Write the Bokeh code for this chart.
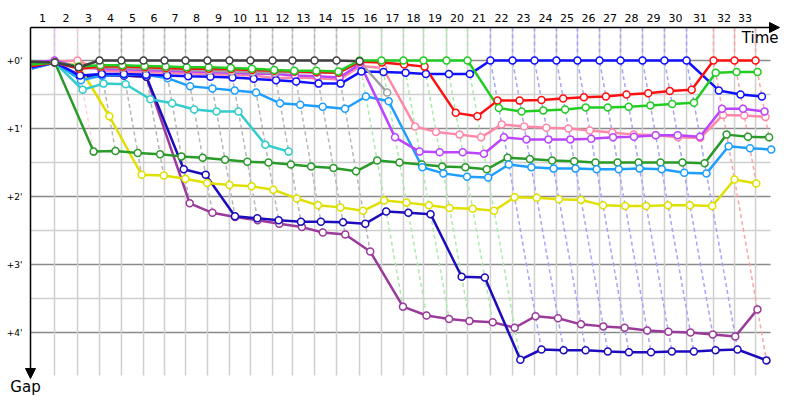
from bokeh.plotting import figure
from bokeh.models import Range1d, Arrow, NormalHead
from bokeh.core.properties import value
from bokeh.embed import file_html
from bokeh.resources import INLINE

# ---------------- data (minutes) ----------------
laps = list(range(0, 34))
# leader's time at the end of each lap (minutes)
leader_time = [0.0, 2.0, 3.92, 5.75, 7.58, 9.42, 11.17, 12.92, 14.75, 16.58, 18.33,
               20.17, 21.83, 23.67, 25.5, 27.42, 29.25, 31.08, 32.75, 34.67, 36.42,
               38.33, 40.17, 42.0, 43.83, 45.58, 47.42, 49.17, 51.0, 52.83, 54.67,
               56.92, 58.67, 60.42]
lap_labels = [str(n) for n in range(1, 34)]
gap_ticks = [0, 1, 2, 3, 4]
gap_labels = ["+0'", "+1'", "+2'", "+3'", "+4'"]

gap_black = [0.02, 0.03, 0.10, 0, 0, 0, 0, 0, 0, 0, 0, 0, 0, 0, 0, 0.01]
gap_gray = [0.05, 0.03, 0.12, 0.10, 0.11, 0.12, 0.13, 0.14, 0.15, 0.16, 0.17, 0.18,
            0.17, 0.18, 0.18, 0.02, 0.47]
gap_green = [0.06, 0.03, 0.09, 0.07, 0.07, 0.08, 0.09, 0.10, 0.10, 0.11, 0.12, 0.14,
             0.15, 0.15, 0.16, 0.0, 0, 0, 0, 0, 0, 0.70, 0.75, 0.735, 0.72, 0.69,
             0.69, 0.68, 0.66, 0.64, 0.62, 0.18, 0.17, 0.17]
gap_red = [0.08, 0.03, 0.12, 0.09, 0.09, 0.10, 0.11, 0.12, 0.12, 0.13, 0.14, 0.15,
           0.16, 0.17, 0.18, 0.02, 0.03, 0.06, 0.09, 0.77, 0.82, 0.59, 0.59, 0.58,
           0.56, 0.54, 0.53, 0.50, 0.48, 0.45, 0.43, 0.0, 0.0, 0.0]
gap_blue = [0.10, 0.03, 0.22, 0.20, 0.20, 0.21, 0.22, 0.23, 0.24, 0.25, 0.27, 0.29,
            0.31, 0.34, 0.34, 0.16, 0.17, 0.18, 0.20, 0.20, 0.20, 0, 0, 0, 0, 0, 0,
            0, 0, 0, 0, 0.44, 0.50, 0.53]
gap_lightblue = [0.12, 0.03, 0.29, 0.22, 0.21, 0.21, 0.26, 0.38, 0.41, 0.44, 0.47,
                 0.63, 0.65, 0.68, 0.71, 0.53, 0.60, 1.57, 1.66, 1.71, 1.72, 1.53,
                 1.57, 1.59, 1.59, 1.60, 1.60, 1.59, 1.60, 1.65, 1.66, 1.26, 1.29, 1.31]
gap_cyan = [0.10, 0.03, 0.43, 0.34, 0.35, 0.57, 0.63, 0.72, 0.75, 0.75, 1.24, 1.34]
gap_darkgreen = [0.04, 0.03, 1.34, 1.33, 1.36, 1.38, 1.41, 1.43, 1.46, 1.49, 1.50,
                 1.53, 1.56, 1.58, 1.63, 1.47, 1.50, 1.53, 1.56, 1.57, 1.60, 1.43,
                 1.45, 1.47, 1.48, 1.50, 1.50, 1.50, 1.50, 1.50, 1.51, 1.09, 1.12, 1.13]
gap_yellow = [0.03, 0.03, 0.07, 0.82, 1.68, 1.69, 1.74, 1.80, 1.83, 1.85, 1.90, 2.03,
              2.13, 2.16, 2.21, 2.06, 2.09, 2.13, 2.17, 2.18, 2.21, 2.01, 2.02, 2.04,
              2.05, 2.13, 2.14, 2.14, 2.13, 2.13, 2.14, 1.75, 1.81]
gap_navy = [0.10, 0.03, 0.25, 0.22, 0.22, 0.24, 1.60, 1.68, 2.29, 2.32, 2.35, 2.37,
            2.37, 2.38, 2.40, 2.22, 2.24, 2.26, 3.18, 3.19, 4.40, 4.25, 4.26, 4.26,
            4.28, 4.29, 4.29, 4.28, 4.28, 4.26, 4.25, 4.41]
gap_purple = [0.12, 0.03, 0.24, 0.21, 0.22, 0.24, 2.10, 2.24, 2.30, 2.35, 2.40, 2.45,
              2.53, 2.56, 2.81, 3.62, 3.75, 3.80, 3.83, 3.85, 3.93, 3.76, 3.79, 3.88,
              3.91, 3.93, 3.97, 3.99, 4.00, 4.03, 4.06, 3.66]
gap_violet = [0.03, 0.0, 0.10, 0.12, 0.13, 0.14, 0.15, 0.16, 0.17, 0.18, 0.19, 0.20,
              0.22, 0.23, 0.25, 0.05, 1.13, 1.34, 1.35, 1.35, 1.37, 1.13, 1.16, 1.16,
              1.16, 1.15, 1.13, 1.12, 1.10, 1.10, 1.12, 0.71, 0.71, 0.75]
gap_pink = [0.06, 0.02, 0.0, 0.15, 0.16, 0.17, 0.18, 0.19, 0.20, 0.21, 0.22, 0.26,
            0.25, 0.26, 0.28, 0.08, 0.11, 0.97, 1.05, 1.09, 1.13, 0.94, 0.97, 0.99,
            1.00, 1.03, 1.06, 1.09, 1.10, 1.13, 1.14, 0.80, 0.81, 0.83]

series = [
    (gap_purple, "#9a3a9a"),
    (gap_navy, "#1c0cbc"),
    (gap_yellow, "#e0e000"),
    (gap_darkgreen, "#2a9a2a"),
    (gap_cyan, "#33cccc"),
    (gap_lightblue, "#1e9eff"),
    (gap_pink, "#ff88a8"),
    (gap_violet, "#bb44ff"),
    (gap_blue, "#1010ff"),
    (gap_gray, "#a0a0a0"),
    (gap_red, "#ff1010"),
    (gap_green, "#22cc22"),
    (gap_black, "#404040"),
]

# ---------------- figure ----------------
PX_X = 12.0   # px per minute horizontally
PX_Y = 68.0   # px per minute vertically
X0, Y0 = 30.0, 60.0
def xd(px):
    return (px - X0) / PX_X
def yd(px):
    return (px - Y0) / PX_Y

p = figure(width=800, height=400, output_backend="svg", toolbar_location=None,
           x_range=Range1d(xd(0), xd(800)), y_range=Range1d(yd(400), yd(0)),
           min_border=0)
p.axis.visible = False
p.grid.visible = False
p.outline_line_color = None
p.background_fill_color = "white"
p.border_fill_color = "white"

top = yd(27)
bottom = yd(375)
right = xd(770)

# horizontal grid
for g in [0.5, 1.5, 2.5, 3.5]:
    p.segment(0, g, right, g, line_color="#cfcfcf", line_width=1.5)
for g in gap_ticks:
    p.segment(0, g, right, g, line_color="#8a8a8a", line_width=1.5)
# vertical grid
p.segment(x0=leader_time[1:], y0=[top] * 33, x1=leader_time[1:], y1=[bottom] * 33,
          line_color="#cfcfcf", line_width=1.5)

def lighten(c, f=0.62):
    r, g, b = int(c[1:3], 16), int(c[3:5], 16), int(c[5:7], 16)
    r = int(r + (255 - r) * f); g = int(g + (255 - g) * f); b = int(b + (255 - b) * f)
    return "#%02x%02x%02x" % (r, g, b)

# dashed lap lines (colour of that lap's leader)
xs, ys, cs = [], [], []
for n in range(1, 34):
    best, bcol, gmax = None, None, 0
    for gaps, col in series:
        if n < len(gaps) and gaps[n] is not None:
            if best is None or gaps[n] < best:
                best, bcol = gaps[n], col
            gmax = max(gmax, gaps[n])
    t = leader_time[n]
    xs.append([t, t, t + gmax]); ys.append([top, 0, gmax]); cs.append(lighten(bcol))
p.multi_line(xs, ys, line_color=cs, line_width=1.5, line_dash="4 3")

# series lines
for gaps, col in series:
    gx = [leader_time[i] + g for i, g in enumerate(gaps) if g is not None]
    gy = [g for g in gaps if g is not None]
    p.line(gx, gy, line_color=col, line_width=2.5)
# markers (lap 1 onward)
for gaps, col in series:
    gx = [leader_time[i] + g for i, g in enumerate(gaps) if g is not None and i > 0]
    gy = [g for i, g in enumerate(gaps) if g is not None and i > 0]
    p.scatter(gx, gy, size=7, fill_color="white", line_color=col, line_width=1.5)

# axes with arrows
p.add_layout(Arrow(end=NormalHead(size=10, fill_color="black", line_color="black"),
                   x_start=0, y_start=top, x_end=xd(779), y_end=top,
                   line_color="black", line_width=1.5))
p.add_layout(Arrow(end=NormalHead(size=10, fill_color="black", line_color="black"),
                   x_start=0, y_start=top, x_end=0, y_end=yd(378),
                   line_color="black", line_width=1.5))

FONT = value("DejaVu Sans")
mid = [(leader_time[i] + leader_time[i + 1]) / 2 for i in range(33)]
p.text(x=mid, y=[yd(17.5)] * 33, text=lap_labels, text_font=FONT,
       text_font_size="11px", text_align="center", text_baseline="middle",
       text_color="black")
p.text(x=[xd(22)] * 5, y=gap_ticks, text=gap_labels, text_font=FONT,
       text_font_size="9px", text_align="right", text_baseline="middle",
       text_color="black")
p.text(x=[xd(778)], y=[yd(28)], text=["Time"], text_font=FONT, text_font_size="15px",
       text_align="right", text_baseline="top", text_color="black")
p.text(x=[xd(25)], y=[yd(377)], text=["Gap"], text_font=FONT, text_font_size="15px",
       text_align="center", text_baseline="top", text_color="black")

open("out.html", "w").write(file_html(p, INLINE))
